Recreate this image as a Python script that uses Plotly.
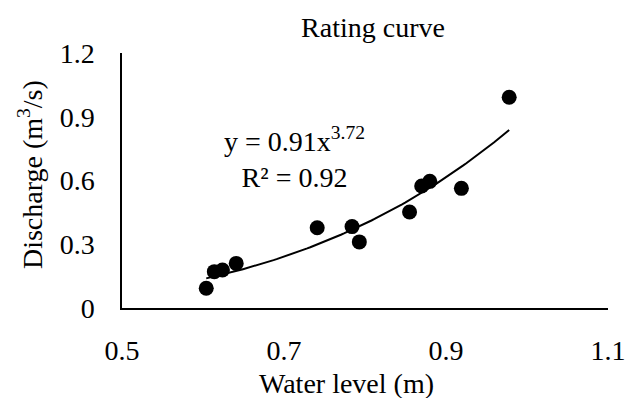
import numpy as np
import plotly.graph_objects as go

water_level = [0.604, 0.614, 0.624, 0.641, 0.741, 0.784, 0.793, 0.855, 0.870, 0.880, 0.919, 0.978]
discharge = [0.093, 0.171, 0.179, 0.210, 0.378, 0.383, 0.311, 0.452, 0.574, 0.596, 0.563, 0.992]
coef_a = 0.91
coef_b = 3.72
r_squared = 0.92
x_ticks = [0.5, 0.7, 0.9, 1.1]
y_ticks = [0, 0.3, 0.6, 0.9, 1.2]

FONT = "Liberation Serif, Times New Roman, serif"
FS = 28

xt = np.linspace(min(water_level), max(water_level), 100)
yt = coef_a * xt ** coef_b

fig = go.Figure()
fig.add_trace(go.Scatter(x=xt, y=yt, mode="lines", line=dict(color="black", width=2),
                         hoverinfo="skip", showlegend=False))
fig.add_trace(go.Scatter(x=water_level, y=discharge, mode="markers",
                         marker=dict(color="black", size=15), showlegend=False))

fig.add_annotation(x=0.7125, y=0.706, xref="x", yref="y",
                   text=f"y = {coef_a}x<sup>{coef_b}</sup><br>R² = {r_squared}",
                   showarrow=False, font=dict(family=FONT, size=FS, color="black"),
                   align="center")

# axis titles
fig.add_annotation(x=(352 - 122) / 497, y=(308 - 383) / 255, xref="paper", yref="paper",
                   text="Water level (m)", showarrow=False, xanchor="center", yanchor="middle",
                   font=dict(family=FONT, size=FS, color="black"))
fig.add_annotation(x=(28 - 122) / 497, y=(308 - 175) / 255, xref="paper", yref="paper",
                   text="Discharge (m<sup>3</sup>/s)", showarrow=False, textangle=-90,
                   xanchor="center", yanchor="middle",
                   font=dict(family=FONT, size=FS, color="black"))

fig.update_layout(
    width=638, height=398,
    margin=dict(l=122, r=19, t=53, b=90),
    paper_bgcolor="white", plot_bgcolor="white",
    font=dict(family=FONT, size=FS, color="black"),
    title=dict(text="Rating curve", x=373 / 638, xref="container", xanchor="center",
               y=1 - 27 / 398, yref="container", yanchor="middle",
               font=dict(family=FONT, size=FS, color="black")),
    xaxis=dict(range=[0.5, 1.1], tickvals=x_ticks, ticktext=[str(v) for v in x_ticks],
               showgrid=False, zeroline=False, showline=True, linecolor="black", linewidth=1.5,
               ticks="", ticklabelstandoff=17),
    yaxis=dict(range=[0, 1.2], tickvals=y_ticks, ticktext=[str(v) for v in y_ticks],
               showgrid=False, zeroline=False, showline=True, linecolor="black", linewidth=1.5,
               ticks="", ticklabelstandoff=20),
)

fig.write_html("out.html")
